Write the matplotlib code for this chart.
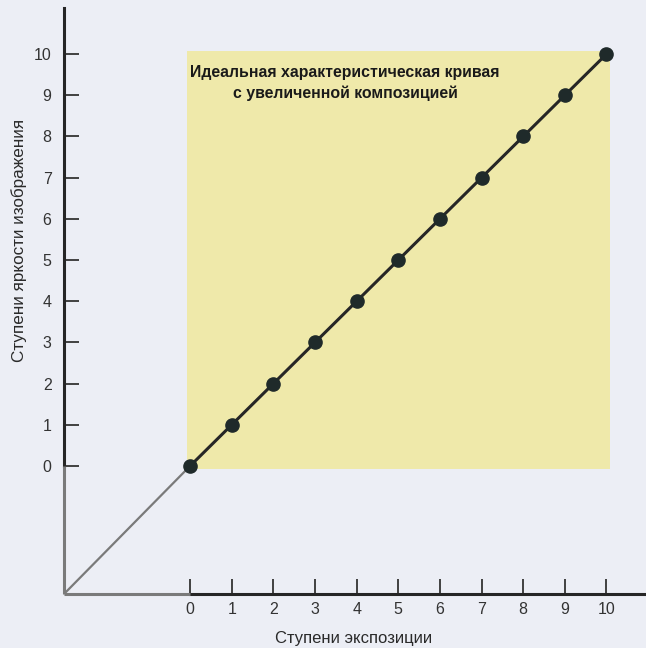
import matplotlib
matplotlib.use("Agg")
import matplotlib.pyplot as plt
from matplotlib.patches import Rectangle

plt.rcParams['font.family'] = ['Liberation Sans', 'DejaVu Sans']

# Exposure steps vs. image brightness steps (ideal 1:1 characteristic)
exposure_steps = [0, 1, 2, 3, 4, 5, 6, 7, 8, 9, 10]
brightness_steps = [0, 1, 2, 3, 4, 5, 6, 7, 8, 9, 10]
x_ticks = [0, 1, 2, 3, 4, 5, 6, 7, 8, 9, 10]
y_ticks = [0, 1, 2, 3, 4, 5, 6, 7, 8, 9, 10]
title_lines = ["Идеальная характеристическая кривая", "с увеличенной композицией"]
x_label = "Ступени экспозиции"
y_label = "Ступени яркости изображения"

bg = "#eceef5"
yellow = "#efe9aa"
dark = "#262626"
grey = "#7a7a7a"

fig = plt.figure(figsize=(6.46, 6.48), dpi=100, facecolor=bg)
ax = fig.add_axes([64 / 646, 54 / 648, 582 / 646, 586 / 648])
ax.set_facecolor(bg)

xmin, xmax = -3.03, 10.95
ymin, ymax = -3.11, 11.12
ax.set_xlim(xmin, xmax)
ax.set_ylim(ymin, ymax)

# highlighted working area
pad = 0.08
ax.add_patch(Rectangle((exposure_steps[0] - pad, brightness_steps[0] - pad),
                       exposure_steps[-1] - exposure_steps[0] + 2 * pad,
                       brightness_steps[-1] - brightness_steps[0] + 2 * pad,
                       facecolor=yellow, edgecolor="none", zorder=0))

# grey extension from the axis corner to the start of the curve
ax.plot([xmin, exposure_steps[0]], [ymin, brightness_steps[0]],
        color=grey, lw=1.6, zorder=2, solid_capstyle="butt")

# the characteristic curve
ax.plot(exposure_steps, brightness_steps, color=dark, lw=2.2,
        marker="o", markersize=9.5, markerfacecolor="#1f2a2a",
        markeredgecolor="#1f2a2a", zorder=3)

# axes: black part from zero, grey part below zero
for s in ["top", "right"]:
    ax.spines[s].set_visible(False)
ax.spines["left"].set_bounds(0, ymax)
ax.spines["bottom"].set_bounds(0, xmax)
ax.spines["left"].set_color(dark)
ax.spines["bottom"].set_color(dark)
ax.spines["left"].set_linewidth(2.2)
ax.spines["bottom"].set_linewidth(2.2)
ax.plot([xmin, xmin], [ymin, 0], color=grey, lw=2.2, clip_on=False, zorder=4,
        solid_capstyle="butt")
ax.plot([xmin, 0], [ymin, ymin], color=grey, lw=2.2, clip_on=False, zorder=4,
        solid_capstyle="butt")

ax.set_xticks(x_ticks)
ax.set_yticks(y_ticks)
ax.set_xticklabels([str(v) for v in x_ticks])
ax.set_yticklabels([str(v) for v in y_ticks])
ax.tick_params(axis="both", direction="in", length=11, width=1.3, color="#333333",
               labelsize=11.5, labelcolor="#333333")
ax.tick_params(axis="x", pad=6)
ax.tick_params(axis="y", pad=9)

ax.text(3.72, 9.56, title_lines[0], ha="center", va="center",
        fontsize=11.4, fontweight="bold", color="#1a1a1a")
ax.text(3.72, 9.05, title_lines[1], ha="center", va="center",
        fontsize=11.4, fontweight="bold", color="#1a1a1a")

fig.text(354 / 646, 1 - 638 / 648, x_label, ha="center", va="center",
         fontsize=12, color="#2a2a2a")
fig.text(19 / 646, 1 - 240 / 648, y_label, ha="center", va="center",
         rotation=90, fontsize=12.3, color="#2a2a2a")

fig.savefig("out.png", dpi=100, facecolor=bg)
